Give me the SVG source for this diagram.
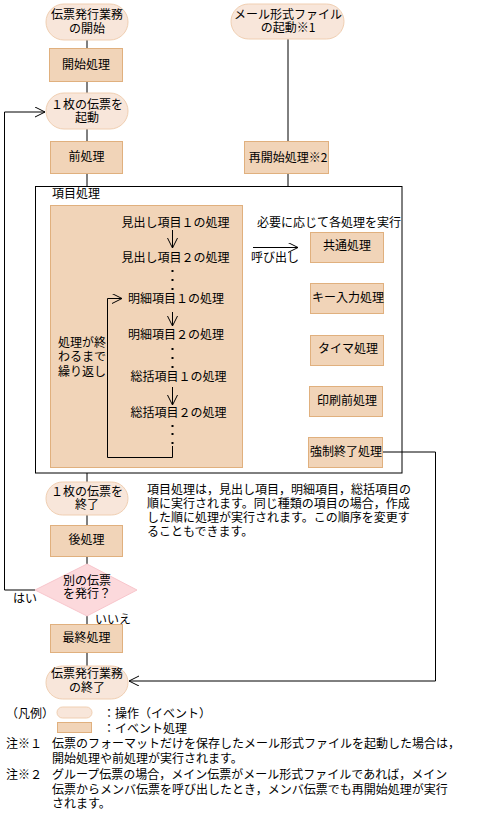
<svg xmlns="http://www.w3.org/2000/svg" width="480" height="814" viewBox="0 0 480 814">
<style>
text{font-family:"Noto Sans CJK JP","Noto Sans",sans-serif;font-size:12px;fill:#000}
.c{text-anchor:middle}
.ev{fill:#f8e6da;stroke:#f0cfb2;stroke-width:1}
.pr{fill:#f1d4b8;stroke:#e0b07e;stroke-width:1}
.dm{fill:#fcd9dc;stroke:#f8c6cc;stroke-width:1}
.ln{fill:none;stroke:#000;stroke-width:1}
.dot{fill:#000}
</style>
<defs>
<marker id="ah" markerUnits="userSpaceOnUse" markerWidth="12" markerHeight="12" refX="10" refY="5" orient="auto">
<path d="M0,0 L10,5 L0,10" fill="none" stroke="#000" stroke-width="1"/>
</marker>
</defs>

<g id="item-box">
<rect x="35.5" y="186.5" width="366.5" height="286.5" fill="none" stroke="#000" stroke-width="1"/>
<text x="52" y="198">項目処理</text>
</g>

<g id="items-panel">
<rect class="pr" x="50.5" y="205.5" width="192" height="262"/>
<text class="c" x="175.5" y="227">見出し項目１の処理</text>
<text class="c" x="175.5" y="262">見出し項目２の処理</text>
<rect class="dot" x="171.5" y="270" width="2" height="2"/>
<rect class="dot" x="171.5" y="279" width="2" height="2"/>
<rect class="dot" x="171.5" y="288" width="2" height="2"/>
<text class="c" x="176" y="303">明細項目１の処理</text>
<text class="c" x="176" y="339">明細項目２の処理</text>
<rect class="dot" x="171.5" y="348" width="2" height="2"/>
<rect class="dot" x="171.5" y="357" width="2" height="2"/>
<rect class="dot" x="171.5" y="366" width="2" height="2"/>
<text class="c" x="178.5" y="381">総括項目１の処理</text>
<text class="c" x="178.5" y="417">総括項目２の処理</text>
<rect class="dot" x="171.5" y="425" width="2" height="2"/>
<rect class="dot" x="171.5" y="433" width="2" height="2"/>
<rect class="dot" x="171.5" y="442" width="2" height="2"/>
<text x="58" y="347"><tspan x="58" y="347">処理が終</tspan><tspan x="58" y="361">わるまで</tspan><tspan x="58" y="376">繰り返し</tspan></text>
</g>

<g id="connectors">
<path class="ln" d="M87,40 V48 M87,82 V93 M87,129 V141 M87,174 V186"/>
<path class="ln" d="M288,39 V141 M288,174 V186"/>
<path class="ln" d="M87,473 V482 M87,515 V525 M87,557 V564 M87,616 V624 M87,653 V666"/>
<path class="ln" d="M35,590 H4.5 V112 H45" marker-end="url(#ah)"/>
<path class="ln" d="M383,452 H435.5 V681 H129" marker-end="url(#ah)"/>
<path class="ln" d="M172.5,230 V248" marker-end="url(#ah)"/>
<path class="ln" d="M172.5,312 V326" marker-end="url(#ah)"/>
<path class="ln" d="M172.5,387 V405" marker-end="url(#ah)"/>
<path class="ln" d="M172.5,446 V457.5 H107.5 V298.5 H122" marker-end="url(#ah)"/>
<path class="ln" d="M253,247.5 H298" marker-end="url(#ah)"/>
</g>

<g id="start">
<rect class="ev" x="46" y="4" width="82" height="36" rx="18"/>
<text class="c" x="87" y="19"><tspan x="87" y="19">伝票発行業務</tspan><tspan x="87" y="33">の開始</tspan></text>
</g>
<g id="mail-start">
<rect class="ev" x="231" y="4" width="113" height="35" rx="17.5"/>
<text class="c" x="288" y="19"><tspan x="288" y="19">メール形式ファイル</tspan><tspan x="288" y="32">の起動※1</tspan></text>
</g>
<g id="init">
<rect class="pr" x="49.5" y="48.5" width="73" height="33"/>
<text class="c" x="86" y="69">開始処理</text>
</g>
<g id="open-slip">
<rect class="ev" x="46" y="93" width="82" height="36" rx="18"/>
<text class="c" x="87" y="109"><tspan x="87" y="109">１枚の伝票を</tspan><tspan x="87" y="122">起動</tspan></text>
</g>
<g id="pre">
<rect class="pr" x="50.5" y="141.5" width="72" height="32"/>
<text class="c" x="86.5" y="161">前処理</text>
</g>
<g id="restart">
<rect class="pr" x="244.5" y="141.5" width="84" height="32"/>
<text class="c" x="288" y="162">再開始処理※2</text>
</g>

<g id="call-label">
<text x="257" y="227">必要に応じて各処理を実行</text>
<text x="251" y="262">呼び出し</text>
</g>
<g id="common">
<rect class="pr" x="310.5" y="232.5" width="73" height="30"/>
<text class="c" x="347" y="250">共通処理</text>
</g>
<g id="key">
<rect class="pr" x="310.5" y="283.5" width="73" height="30"/>
<text class="c" x="348" y="302">キー入力処理</text>
</g>
<g id="timer">
<rect class="pr" x="310.5" y="335.5" width="73" height="30"/>
<text class="c" x="348" y="353">タイマ処理</text>
</g>
<g id="preprint">
<rect class="pr" x="309.5" y="386.5" width="73" height="30"/>
<text class="c" x="347" y="405">印刷前処理</text>
</g>
<g id="force-end">
<rect class="pr" x="308.5" y="437.5" width="74" height="30"/>
<text class="c" x="346" y="456">強制終了処理</text>
</g>

<g id="note-items">
<text x="147" y="494"><tspan x="147" y="494">項目処理は，見出し項目，明細項目，総括項目の</tspan><tspan x="147" y="508">順に実行されます。同じ種類の項目の場合，作成</tspan><tspan x="147" y="522">した順に処理が実行されます。この順序を変更す</tspan><tspan x="147" y="536">ることもできます。</tspan></text>
</g>

<g id="close-slip">
<rect class="ev" x="46" y="482" width="82" height="33" rx="16.5"/>
<text class="c" x="87" y="496"><tspan x="87" y="496">１枚の伝票を</tspan><tspan x="87" y="509">終了</tspan></text>
</g>
<g id="post">
<rect class="pr" x="50.5" y="525.5" width="72" height="31"/>
<text class="c" x="86.5" y="544">後処理</text>
</g>
<g id="decision">
<polygon class="dm" points="87,564 137,590 87,616 35,590"/>
<text class="c" x="87" y="585"><tspan x="87" y="585">別の伝票</tspan><tspan x="87" y="598">を発行？</tspan></text>
<text x="13" y="603">はい</text>
<text x="95" y="624">いいえ</text>
</g>
<g id="final">
<rect class="pr" x="50.5" y="624.5" width="72" height="28"/>
<text class="c" x="86.5" y="642">最終処理</text>
</g>
<g id="end">
<rect class="ev" x="46" y="666" width="82" height="33" rx="16.5"/>
<text class="c" x="87" y="678"><tspan x="87" y="678">伝票発行業務</tspan><tspan x="87" y="692">の終了</tspan></text>
</g>

<g id="legend">
<text x="6" y="718">（凡例）</text>
<rect class="ev" x="57" y="707" width="35" height="11" rx="5.5"/>
<text x="103" y="718">：操作（イベント）</text>
<rect class="pr" x="57.5" y="722.5" width="34" height="10"/>
<text x="103" y="733">：イベント処理</text>
<text x="6" y="748">注※１</text>
<text x="52" y="748"><tspan x="52" y="748">伝票のフォーマットだけを保存したメール形式ファイルを起動した場合は，</tspan><tspan x="52" y="763">開始処理や前処理が実行されます。</tspan></text>
<text x="6" y="779">注※２</text>
<text x="52" y="779"><tspan x="52" y="779">グループ伝票の場合，メイン伝票がメール形式ファイルであれば，メイン</tspan><tspan x="52" y="794">伝票からメンバ伝票を呼び出したとき，メンバ伝票でも再開始処理が実行</tspan><tspan x="52" y="808">されます。</tspan></text>
</g>
</svg>
